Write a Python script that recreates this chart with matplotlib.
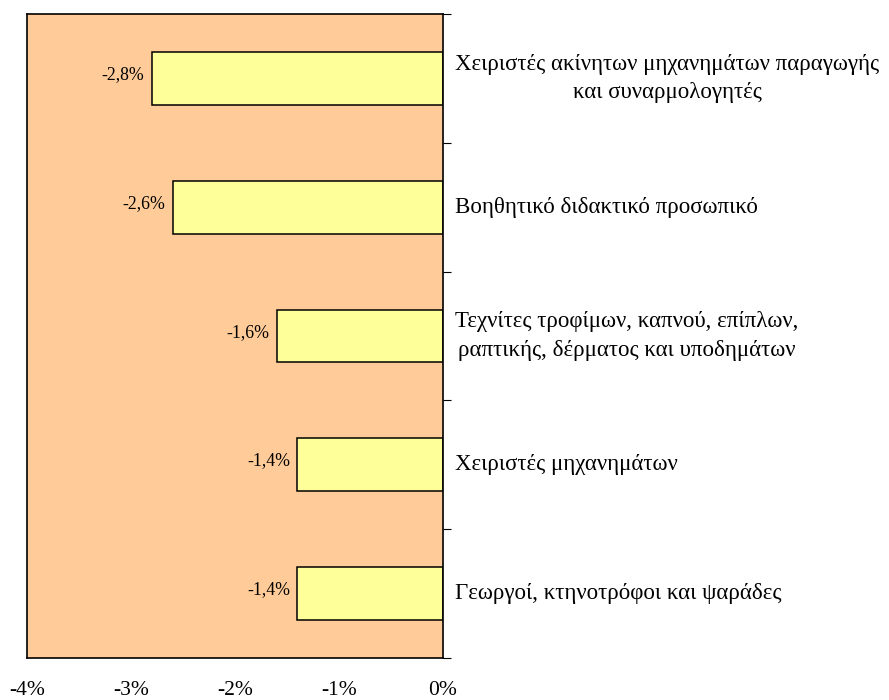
import numpy as np
from matplotlib import pyplot as plt

plt.rcParams['font.family'] = ['Liberation Serif', 'DejaVu Serif']

categories = [
    "Χειριστές ακίνητων μηχανημάτων παραγωγής\nκαι συναρμολογητές",
    "Βοηθητικό διδακτικό προσωπικό",
    "Τεχνίτες τροφίμων, καπνού, επίπλων,\nραπτικής, δέρματος και υποδημάτων",
    "Χειριστές μηχανημάτων",
    "Γεωργοί, κτηνοτρόφοι και ψαράδες",
]
values = [-2.8, -2.6, -1.6, -1.4, -1.4]
xticks = [-4, -3, -2, -1, 0]
xticklabels = ["-4%", "-3%", "-2%", "-1%", "0%"]

fig = plt.figure(figsize=(8.89, 7), dpi=100)
ax = fig.add_axes([27/889, 1-658/700, 416/889, 644/700])
ax.set_facecolor("#FFCC99")

y = np.arange(len(values))
ax.barh(y, values, height=0.41, color="#FFFF99", edgecolor="black", linewidth=1.1)

for yi, v in zip(y, values):
    ax.text(v - 0.07, yi - 0.03, f"{v:.1f}%".replace(".", ","), ha="right", va="center", fontsize=12.8)

for yi, c in zip(y, categories):
    ax.text(1.029, yi, c, transform=ax.get_yaxis_transform(), ha="left", va="center",
            multialignment="center", fontsize=16.5, linespacing=1.45)

ax.set_xlim(-4, 0)
ax.set_ylim(len(values) - 0.5, -0.5)
ax.set_xticks(xticks)
ax.set_xticklabels(xticklabels, fontsize=15.5)
ax.tick_params(axis="x", length=0, pad=16.5)

ax.yaxis.tick_right()
ax.set_yticks(np.arange(-0.5, len(values), 1.0))
ax.set_yticklabels([])
ax.tick_params(axis="y", direction="out", length=6, width=0.8)

for s in ax.spines.values():
    s.set_linewidth(1.2)

fig.savefig("out.png", dpi=100)
